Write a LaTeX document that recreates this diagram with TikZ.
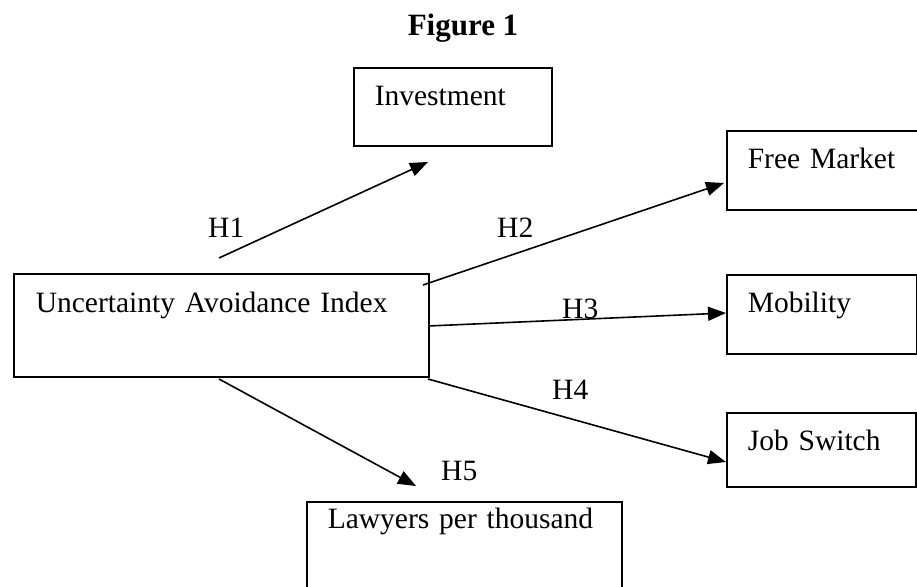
\documentclass[tikz,border=0pt]{standalone}
\usepackage{fontspec}
\setmainfont{Liberation Serif}
\usetikzlibrary{arrows.meta,positioning,calc}

\begin{document}
\begin{tikzpicture}[
    x=1pt, y=-1pt,
    every node/.style={font=\fontsize{29.5}{35}\selectfont},
    varbox/.style={draw=black, line width=1.6pt, anchor=north west, align=left, inner xsep=21pt, inner ysep=0pt},
    hyp/.style={line width=1.6pt, -{Triangle[length=18pt, width=14pt]}},
    hlabel/.style={anchor=base west, inner sep=0pt}
]
    \useasboundingbox (0,0) rectangle (917,586);
    \clip (0,0) rectangle (917,586);

    % Title
    \node[anchor=base, font=\fontsize{31}{36}\selectfont\bfseries] (title) at (463,36) {Figure 1};

    % Predictor
    \node[varbox, inner xsep=22pt, text width=371pt, text height=39pt, text depth=64pt] (uai) at (13,273) {Uncertainty Avoidance Index};

    % Outcome boxes
    \node[varbox, text width=156pt, text height=38pt, text depth=40pt] (inv) at (353,67) {Investment};
    \node[varbox, text width=168pt, text height=38pt, text depth=41pt] (free) at (726,130) {Free Market};
    \node[varbox, text width=148pt, text height=38pt, text depth=41pt] (mob) at (726,274) {Mobility};
    \node[varbox, text width=147pt, text height=38pt, text depth=36pt] (job) at (726,412) {Job Switch};
    \node[varbox, text width=273pt, text height=27pt, text depth=75pt] (law) at (306,501) {Lawyers per thousand};

    % Arrow ends
    \coordinate (s1) at (219,258);
    \coordinate (t1) at (428,162);
    \coordinate (s2) at (423,285);
    \coordinate (t2) at (724,183);
    \coordinate (s3) at (428,326);
    \coordinate (t3) at (726,313);
    \coordinate (s4) at (428,379);
    \coordinate (t4) at (726,462);
    \coordinate (s5) at (219,379);
    \coordinate (t5) at (416,486);

    % Hypothesis arrows
    \draw[hyp] (s1) -- (t1);
    \draw[hyp] (s2) -- (t2);
    \draw[hyp] (s3) -- (t3);
    \draw[hyp] (s4) -- (t4);
    \draw[hyp] (s5) -- (t5);

    % Hypothesis labels
    \node[hlabel] (h1) at (208,237) {H1};
    \node[hlabel] (h2) at (497,237) {H2};
    \node[hlabel] (h3) at (562,318) {H3};
    \node[hlabel] (h4) at (552,399) {H4};
    \node[hlabel] (h5) at (441,480) {H5};

\end{tikzpicture}
\end{document}
